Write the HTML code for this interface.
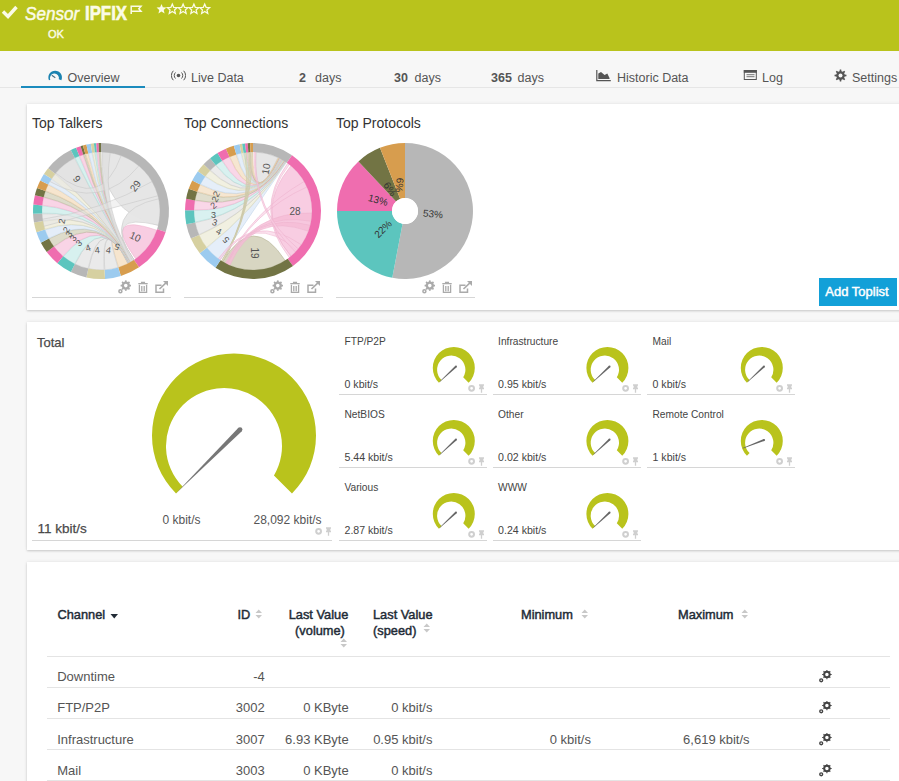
<!DOCTYPE html>
<html><head><meta charset="utf-8"><style>
html,body{margin:0;padding:0;}
body{width:899px;height:781px;overflow:hidden;position:relative;background:#f7f7f7;font-family:"Liberation Sans", sans-serif;}
.t{position:absolute;white-space:nowrap;}
.panel{position:absolute;background:#fff;box-shadow:0 1px 2px rgba(0,0,0,0.16), 0 0 4px rgba(0,0,0,0.07);}
</style></head><body>
<div style="position:absolute;left:0;top:0;width:899px;height:51px;background:#b9c31c"></div><svg style="position:absolute;left:0;top:0" width="20" height="22"><path d="M3 11.5 L8 16.5 L16.5 7" fill="none" stroke="#fbfbe6" stroke-width="3.4"/></svg><div class="t" style="left:25px;top:3.92px;font-size:19px;line-height:19px;color:#fbfbe6;font-weight:normal;font-style:italic;transform:scaleX(0.9);transform-origin:0 0;-webkit-text-stroke:0.5px #fbfbe6;">Sensor</div>
<div class="t" style="left:84.7px;top:3.27px;font-size:20px;line-height:20px;color:#fbfbe6;font-weight:bold;transform:scaleX(0.84);transform-origin:0 0;-webkit-text-stroke:0.6px #fbfbe6;">IPFIX</div>
<div class="t" style="left:48px;top:29.49px;font-size:11px;line-height:11px;color:#fbfbe6;font-weight:normal;-webkit-text-stroke:0.4px #fbfbe6;">OK</div>
<svg style="position:absolute;left:130px;top:5px" width="13" height="9"><path d="M1.2 0.5 V9 M1.2 1.2 H11 L8.8 3.7 L11 6.2 H1.2" fill="none" stroke="#fbfbe6" stroke-width="1.5"/></svg><svg style="position:absolute;left:150px;top:0px" width="70" height="20"><polygon points="11.50,4.00 12.88,7.31 16.45,7.59 13.73,9.92 14.56,13.41 11.50,11.54 8.44,13.41 9.27,9.92 6.55,7.59 10.12,7.31" fill="#fbfbe6"/><polygon points="22.30,4.00 23.68,7.31 27.25,7.59 24.53,9.92 25.36,13.41 22.30,11.54 19.24,13.41 20.07,9.92 17.35,7.59 20.92,7.31" fill="none" stroke="#fbfbe6" stroke-width="1.25"/><polygon points="33.10,4.00 34.48,7.31 38.05,7.59 35.33,9.92 36.16,13.41 33.10,11.54 30.04,13.41 30.87,9.92 28.15,7.59 31.72,7.31" fill="none" stroke="#fbfbe6" stroke-width="1.25"/><polygon points="43.90,4.00 45.28,7.31 48.85,7.59 46.13,9.92 46.96,13.41 43.90,11.54 40.84,13.41 41.67,9.92 38.95,7.59 42.52,7.31" fill="none" stroke="#fbfbe6" stroke-width="1.25"/><polygon points="54.70,4.00 56.08,7.31 59.65,7.59 56.93,9.92 57.76,13.41 54.70,11.54 51.64,13.41 52.47,9.92 49.75,7.59 53.32,7.31" fill="none" stroke="#fbfbe6" stroke-width="1.25"/></svg><div style="position:absolute;left:0;top:87px;width:899px;height:1px;background:#e6e6e6"></div><div style="position:absolute;left:21px;top:86px;width:124px;height:2px;background:#1b8bbd"></div><svg style="position:absolute;left:0;top:0" width="100" height="100"><path d="M48.99,80.37 A6.80,6.80 0 1 1 61.31,80.37 L58.79,79.20 A4.50,4.50 0 1 0 50.31,79.76 Z" fill="#1b82b0"/><path d="M51.8 75.2 L55.3 77.8" stroke="#4a6f85" stroke-width="1.1"/></svg><div class="t" style="left:67.5px;top:71.82px;font-size:12.5px;line-height:12.5px;color:#555;font-weight:normal;">Overview</div>
<svg style="position:absolute;left:171px;top:70px" width="15" height="11"><circle cx="7.5" cy="5.5" r="1.8" fill="#555"/><path d="M4.5 2.5 A4.2 4.2 0 0 0 4.5 8.5 M10.5 2.5 A4.2 4.2 0 0 1 10.5 8.5 M2.3 0.8 A6.8 6.8 0 0 0 2.3 10.2 M12.7 0.8 A6.8 6.8 0 0 1 12.7 10.2" fill="none" stroke="#555" stroke-width="1"/></svg><div class="t" style="left:191px;top:71.82px;font-size:12.5px;line-height:12.5px;color:#555;font-weight:normal;">Live Data</div>
<div class="t" style="left:299px;top:71.82px;font-size:12.5px;line-height:12.5px;color:#555;font-weight:bold;">2</div>
<div class="t" style="left:315px;top:71.82px;font-size:12.5px;line-height:12.5px;color:#555;font-weight:normal;">days</div>
<div class="t" style="left:394px;top:71.82px;font-size:12.5px;line-height:12.5px;color:#555;font-weight:bold;">30</div>
<div class="t" style="left:414.5px;top:71.82px;font-size:12.5px;line-height:12.5px;color:#555;font-weight:normal;">days</div>
<div class="t" style="left:491px;top:71.82px;font-size:12.5px;line-height:12.5px;color:#555;font-weight:bold;">365</div>
<div class="t" style="left:517.5px;top:71.82px;font-size:12.5px;line-height:12.5px;color:#555;font-weight:normal;">days</div>
<svg style="position:absolute;left:590px;top:64px" width="24" height="20"><path d="M6.8 6 V16.6 H20.8" fill="none" stroke="#555" stroke-width="1.2"/><path d="M8.3 15 V9.5 L11 8 L14.6 11 L17.3 9.5 L19.5 14 V15 Z" fill="#555"/></svg><div class="t" style="left:617px;top:71.82px;font-size:12.5px;line-height:12.5px;color:#555;font-weight:normal;">Historic Data</div>
<svg style="position:absolute;left:738px;top:64px" width="24" height="20"><rect x="6.3" y="6.5" width="12" height="9" fill="none" stroke="#555" stroke-width="1"/><rect x="5.8" y="6" width="13" height="2.8" fill="#555"/><path d="M8.5 10.7 H16.5 M8.5 12.7 H16.5" stroke="#666" stroke-width="0.9"/></svg><div class="t" style="left:762px;top:71.82px;font-size:12.5px;line-height:12.5px;color:#555;font-weight:normal;">Log</div>
<svg style="position:absolute;left:834px;top:69px" width="13" height="13"><path d="M10.70,5.56 L12.46,5.78 L12.46,7.22 L10.70,7.44 L10.13,8.80 L11.22,10.20 L10.20,11.22 L8.80,10.13 L7.44,10.70 L7.22,12.46 L5.78,12.46 L5.56,10.70 L4.20,10.13 L2.80,11.22 L1.78,10.20 L2.87,8.80 L2.30,7.44 L0.54,7.22 L0.54,5.78 L2.30,5.56 L2.87,4.20 L1.78,2.80 L2.80,1.78 L4.20,2.87 L5.56,2.30 L5.78,0.54 L7.22,0.54 L7.44,2.30 L8.80,2.87 L10.20,1.78 L11.22,2.80 L10.13,4.20 Z" fill="#555"/><circle cx="6.5" cy="6.5" r="2" fill="#f7f7f7"/></svg><div class="t" style="left:852px;top:71.82px;font-size:12.5px;line-height:12.5px;color:#555;font-weight:normal;">Settings</div>
<div class="panel" style="left:27px;top:104px;width:890px;height:206px"></div><div class="panel" style="left:27px;top:322px;width:890px;height:228px"></div><div class="panel" style="left:27px;top:562px;width:890px;height:240px"></div><div class="t" style="left:32px;top:115.95px;font-size:14px;line-height:14px;color:#333;font-weight:normal;">Top Talkers</div>
<div class="t" style="left:184px;top:115.95px;font-size:14px;line-height:14px;color:#333;font-weight:normal;">Top Connections</div>
<div class="t" style="left:336px;top:115.95px;font-size:14px;line-height:14px;color:#333;font-weight:normal;">Top Protocols</div>
<div style="position:absolute;left:32px;top:297px;width:139px;height:1px;background:#d6d6d6"></div><div style="position:absolute;left:184px;top:297px;width:139px;height:1px;background:#d6d6d6"></div><div style="position:absolute;left:336px;top:297px;width:139px;height:1px;background:#d6d6d6"></div><svg style="position:absolute;left:117.5px;top:280px" width="52" height="15"><circle cx="7.8" cy="5.6" r="3.0" fill="none" stroke="#aaa" stroke-width="2.4"/><rect x="6.95" y="0.40" width="1.7" height="1.6" fill="#aaa" transform="rotate(0.0 7.8 5.6)"/><rect x="6.95" y="0.40" width="1.7" height="1.6" fill="#aaa" transform="rotate(45.0 7.8 5.6)"/><rect x="6.95" y="0.40" width="1.7" height="1.6" fill="#aaa" transform="rotate(90.0 7.8 5.6)"/><rect x="6.95" y="0.40" width="1.7" height="1.6" fill="#aaa" transform="rotate(135.0 7.8 5.6)"/><rect x="6.95" y="0.40" width="1.7" height="1.6" fill="#aaa" transform="rotate(180.0 7.8 5.6)"/><rect x="6.95" y="0.40" width="1.7" height="1.6" fill="#aaa" transform="rotate(225.0 7.8 5.6)"/><rect x="6.95" y="0.40" width="1.7" height="1.6" fill="#aaa" transform="rotate(270.0 7.8 5.6)"/><rect x="6.95" y="0.40" width="1.7" height="1.6" fill="#aaa" transform="rotate(315.0 7.8 5.6)"/><circle cx="2.4" cy="11.3" r="1.5" fill="none" stroke="#aaa" stroke-width="1.5"/><path d="M20.3 3.6 H29.7 M23.6 3.6 V2.3 H26.4 V3.6 M21.4 4.8 V12.4 H28.6 V4.8 M23.8 6 V11.2 M26.2 6 V11.2" fill="none" stroke="#aaa" stroke-width="1.3"/><path d="M43.5 5.2 H38 V12.2 H45.5 V8.5" fill="none" stroke="#aaa" stroke-width="1.5"/><path d="M41.5 9 L49 1.8" fill="none" stroke="#aaa" stroke-width="1.6"/><path d="M45 1 H50 V6 Z" fill="#aaa"/></svg><svg style="position:absolute;left:269.5px;top:280px" width="52" height="15"><circle cx="7.8" cy="5.6" r="3.0" fill="none" stroke="#aaa" stroke-width="2.4"/><rect x="6.95" y="0.40" width="1.7" height="1.6" fill="#aaa" transform="rotate(0.0 7.8 5.6)"/><rect x="6.95" y="0.40" width="1.7" height="1.6" fill="#aaa" transform="rotate(45.0 7.8 5.6)"/><rect x="6.95" y="0.40" width="1.7" height="1.6" fill="#aaa" transform="rotate(90.0 7.8 5.6)"/><rect x="6.95" y="0.40" width="1.7" height="1.6" fill="#aaa" transform="rotate(135.0 7.8 5.6)"/><rect x="6.95" y="0.40" width="1.7" height="1.6" fill="#aaa" transform="rotate(180.0 7.8 5.6)"/><rect x="6.95" y="0.40" width="1.7" height="1.6" fill="#aaa" transform="rotate(225.0 7.8 5.6)"/><rect x="6.95" y="0.40" width="1.7" height="1.6" fill="#aaa" transform="rotate(270.0 7.8 5.6)"/><rect x="6.95" y="0.40" width="1.7" height="1.6" fill="#aaa" transform="rotate(315.0 7.8 5.6)"/><circle cx="2.4" cy="11.3" r="1.5" fill="none" stroke="#aaa" stroke-width="1.5"/><path d="M20.3 3.6 H29.7 M23.6 3.6 V2.3 H26.4 V3.6 M21.4 4.8 V12.4 H28.6 V4.8 M23.8 6 V11.2 M26.2 6 V11.2" fill="none" stroke="#aaa" stroke-width="1.3"/><path d="M43.5 5.2 H38 V12.2 H45.5 V8.5" fill="none" stroke="#aaa" stroke-width="1.5"/><path d="M41.5 9 L49 1.8" fill="none" stroke="#aaa" stroke-width="1.6"/><path d="M45 1 H50 V6 Z" fill="#aaa"/></svg><svg style="position:absolute;left:421.5px;top:280px" width="52" height="15"><circle cx="7.8" cy="5.6" r="3.0" fill="none" stroke="#aaa" stroke-width="2.4"/><rect x="6.95" y="0.40" width="1.7" height="1.6" fill="#aaa" transform="rotate(0.0 7.8 5.6)"/><rect x="6.95" y="0.40" width="1.7" height="1.6" fill="#aaa" transform="rotate(45.0 7.8 5.6)"/><rect x="6.95" y="0.40" width="1.7" height="1.6" fill="#aaa" transform="rotate(90.0 7.8 5.6)"/><rect x="6.95" y="0.40" width="1.7" height="1.6" fill="#aaa" transform="rotate(135.0 7.8 5.6)"/><rect x="6.95" y="0.40" width="1.7" height="1.6" fill="#aaa" transform="rotate(180.0 7.8 5.6)"/><rect x="6.95" y="0.40" width="1.7" height="1.6" fill="#aaa" transform="rotate(225.0 7.8 5.6)"/><rect x="6.95" y="0.40" width="1.7" height="1.6" fill="#aaa" transform="rotate(270.0 7.8 5.6)"/><rect x="6.95" y="0.40" width="1.7" height="1.6" fill="#aaa" transform="rotate(315.0 7.8 5.6)"/><circle cx="2.4" cy="11.3" r="1.5" fill="none" stroke="#aaa" stroke-width="1.5"/><path d="M20.3 3.6 H29.7 M23.6 3.6 V2.3 H26.4 V3.6 M21.4 4.8 V12.4 H28.6 V4.8 M23.8 6 V11.2 M26.2 6 V11.2" fill="none" stroke="#aaa" stroke-width="1.3"/><path d="M43.5 5.2 H38 V12.2 H45.5 V8.5" fill="none" stroke="#aaa" stroke-width="1.5"/><path d="M41.5 9 L49 1.8" fill="none" stroke="#aaa" stroke-width="1.6"/><path d="M45 1 H50 V6 Z" fill="#aaa"/></svg><div style="position:absolute;left:819px;top:278px;width:78px;height:28px;background:#12a0d8"></div><div class="t" style="left:825.3px;top:285.00px;font-size:13px;line-height:13px;color:#fff;font-weight:normal;-webkit-text-stroke:0.45px #fff;">Add Toplist</div>
<svg style="position:absolute;left:0;top:0" width="899" height="781">
<path d="M103.06,152.04 A59,59 0 0 1 158.25,225.27 Q101.00,211.00 103.06,152.04 Z" fill="#e6e6e6" fill-opacity="1" stroke="#c9c9c9" stroke-width="0.6"/>
<path d="M156.79,230.21 A59,59 0 0 1 135.68,258.73 Q101.00,211.00 156.79,230.21 Z" fill="#f8cde2" fill-opacity="1" stroke="#eeb3cf" stroke-width="0.6"/>
<path d="M133.74,260.09 A59,59 0 0 1 118.55,267.33 Q101.00,211.00 128.03,263.44 A59,59 0 0 1 127.79,263.57 Q101.00,211.00 133.74,260.09 Z" fill="#f4e0c6" fill-opacity="0.85" stroke="#e3c8a3" stroke-width="0.6"/>
<path d="M117.95,267.51 A59,59 0 0 1 104.81,269.88 Q101.00,211.00 128.28,263.32 A59,59 0 0 1 128.03,263.44 Q101.00,211.00 117.95,267.51 Z" fill="#e6e6e6" fill-opacity="0.85" stroke="#c9c9c9" stroke-width="0.6"/>
<path d="M104.19,269.91 A59,59 0 0 1 88.63,268.69 Q101.00,211.00 128.52,263.19 A59,59 0 0 1 128.28,263.32 Q101.00,211.00 104.19,269.91 Z" fill="#e6e6e6" fill-opacity="0.85" stroke="#c9c9c9" stroke-width="0.6"/>
<path d="M88.03,268.56 A59,59 0 0 1 75.14,264.03 Q101.00,211.00 128.77,263.06 A59,59 0 0 1 128.52,263.19 Q101.00,211.00 88.03,268.56 Z" fill="#e6e6e6" fill-opacity="0.85" stroke="#c9c9c9" stroke-width="0.6"/>
<path d="M74.58,263.76 A59,59 0 0 1 63.39,256.46 Q101.00,211.00 129.01,262.93 A59,59 0 0 1 128.77,263.06 Q101.00,211.00 74.58,263.76 Z" fill="#d0eeec" fill-opacity="0.85" stroke="#b0dcd9" stroke-width="0.6"/>
<path d="M62.92,256.06 A59,59 0 0 1 54.13,246.84 Q101.00,211.00 129.26,262.79 A59,59 0 0 1 129.01,262.93 Q101.00,211.00 62.92,256.06 Z" fill="#f8cde2" fill-opacity="0.85" stroke="#eeb3cf" stroke-width="0.6"/>
<path d="M53.76,246.34 A59,59 0 0 1 48.95,238.79 Q101.00,211.00 129.50,262.66 A59,59 0 0 1 129.26,262.79 Q101.00,211.00 53.76,246.34 Z" fill="#d8d6c2" fill-opacity="0.85" stroke="#b9b79a" stroke-width="0.6"/>
<path d="M48.67,238.24 A59,59 0 0 1 45.08,229.82 Q101.00,211.00 129.74,262.53 A59,59 0 0 1 129.50,262.66 Q101.00,211.00 48.67,238.24 Z" fill="#dfeaf7" fill-opacity="0.85" stroke="#c4d6ea" stroke-width="0.6"/>
<path d="M44.89,229.23 A59,59 0 0 1 42.91,221.35 Q101.00,211.00 129.98,262.39 A59,59 0 0 1 129.74,262.53 Q101.00,211.00 44.89,229.23 Z" fill="#eeecd9" fill-opacity="0.85" stroke="#d9d6b8" stroke-width="0.6"/>
<path d="M42.81,220.74 A59,59 0 0 1 42.07,213.78 Q101.00,211.00 130.23,262.25 A59,59 0 0 1 129.98,262.39 Q101.00,211.00 42.81,220.74 Z" fill="#e6e6e6" fill-opacity="0.85" stroke="#c9c9c9" stroke-width="0.6"/>
<path d="M42.04,213.16 A59,59 0 0 1 42.23,205.76 Q101.00,211.00 130.47,262.12 A59,59 0 0 1 130.23,262.25 Q101.00,211.00 42.04,213.16 Z" fill="#d0eeec" fill-opacity="0.85" stroke="#b0dcd9" stroke-width="0.6"/>
<path d="M42.29,205.14 A59,59 0 0 1 43.56,197.53 Q101.00,211.00 130.71,261.98 A59,59 0 0 1 130.47,262.12 Q101.00,211.00 42.29,205.14 Z" fill="#f8cde2" fill-opacity="0.85" stroke="#eeb3cf" stroke-width="0.6"/>
<path d="M43.70,196.93 A59,59 0 0 1 45.38,191.31 Q101.00,211.00 130.94,261.84 A59,59 0 0 1 130.71,261.98 Q101.00,211.00 43.70,196.93 Z" fill="#d8d6c2" fill-opacity="0.85" stroke="#b9b79a" stroke-width="0.6"/>
<path d="M45.59,190.72 A59,59 0 0 1 48.15,184.77 Q101.00,211.00 131.18,261.69 A59,59 0 0 1 130.94,261.84 Q101.00,211.00 45.59,190.72 Z" fill="#f4e0c6" fill-opacity="0.85" stroke="#e3c8a3" stroke-width="0.6"/>
<path d="M48.43,184.21 A59,59 0 0 1 51.35,179.13 Q101.00,211.00 131.42,261.55 A59,59 0 0 1 131.18,261.69 Q101.00,211.00 48.43,184.21 Z" fill="#dfeaf7" fill-opacity="0.85" stroke="#c4d6ea" stroke-width="0.6"/>
<path d="M51.69,178.61 A59,59 0 0 1 54.95,174.11 Q101.00,211.00 131.66,261.41 A59,59 0 0 1 131.42,261.55 Q101.00,211.00 51.69,178.61 Z" fill="#eeecd9" fill-opacity="0.85" stroke="#d9d6b8" stroke-width="0.6"/>
<path d="M55.34,173.63 A59,59 0 0 1 74.58,158.24 Q101.00,211.00 131.89,261.26 A59,59 0 0 1 131.66,261.41 Q101.00,211.00 55.34,173.63 Z" fill="#e2e2e2" fill-opacity="0.95" stroke="#c9c9c9" stroke-width="0.6"/>
<path d="M75.14,157.97 A59,59 0 0 1 79.09,156.22 Q101.00,211.00 132.13,261.12 A59,59 0 0 1 131.89,261.26 Q101.00,211.00 75.14,157.97 Z" fill="#d0eeec" fill-opacity="0.85" stroke="#b0dcd9" stroke-width="0.6"/>
<path d="M79.66,155.99 A59,59 0 0 1 82.96,154.82 Q101.00,211.00 132.37,260.97 A59,59 0 0 1 132.13,261.12 Q101.00,211.00 79.66,155.99 Z" fill="#f8cde2" fill-opacity="0.85" stroke="#eeb3cf" stroke-width="0.6"/>
<path d="M83.55,154.64 A59,59 0 0 1 85.03,154.20 Q101.00,211.00 132.60,260.82 A59,59 0 0 1 132.37,260.97 Q101.00,211.00 83.55,154.64 Z" fill="#d8d6c2" fill-opacity="0.85" stroke="#b9b79a" stroke-width="0.6"/>
<path d="M85.63,154.04 A59,59 0 0 1 88.03,153.44 Q101.00,211.00 132.83,260.67 A59,59 0 0 1 132.60,260.82 Q101.00,211.00 85.63,154.04 Z" fill="#f4e0c6" fill-opacity="0.85" stroke="#e3c8a3" stroke-width="0.6"/>
<path d="M88.63,153.31 A59,59 0 0 1 91.87,152.71 Q101.00,211.00 133.07,260.52 A59,59 0 0 1 132.83,260.67 Q101.00,211.00 88.63,153.31 Z" fill="#dfeaf7" fill-opacity="0.85" stroke="#c4d6ea" stroke-width="0.6"/>
<path d="M92.48,152.62 A59,59 0 0 1 94.53,152.36 Q101.00,211.00 133.30,260.37 A59,59 0 0 1 133.07,260.52 Q101.00,211.00 92.48,152.62 Z" fill="#eeecd9" fill-opacity="0.85" stroke="#d9d6b8" stroke-width="0.6"/>
<path d="M95.14,152.29 A59,59 0 0 1 96.58,152.17 Q101.00,211.00 133.53,260.22 A59,59 0 0 1 133.30,260.37 Q101.00,211.00 95.14,152.29 Z" fill="#d0eeec" fill-opacity="0.85" stroke="#b0dcd9" stroke-width="0.6"/>
<path d="M97.19,152.12 A59,59 0 0 1 98.63,152.05 Q101.00,211.00 133.76,260.07 A59,59 0 0 1 133.53,260.22 Q101.00,211.00 97.19,152.12 Z" fill="#f8cde2" fill-opacity="0.85" stroke="#eeb3cf" stroke-width="0.6"/>
<path d="M99.25,152.03 A59,59 0 0 1 100.69,152.00 Q101.00,211.00 133.99,259.91 A59,59 0 0 1 133.76,260.07 Q101.00,211.00 99.25,152.03 Z" fill="#d8d6c2" fill-opacity="0.85" stroke="#b9b79a" stroke-width="0.6"/>
<path d="M121.18,155.56 A59,59 0 0 1 138.92,165.80 Q101.00,211.00 49.90,181.50 A59,59 0 0 1 55.80,173.08 Q101.00,211.00 121.18,155.56 Z" fill="#e6e6e6" fill-opacity="0.5" stroke="#c9c9c9" stroke-width="0.6"/>
<path d="M102.03,152.01 A59,59 0 0 1 110.23,152.73 Q101.00,211.00 133.99,259.91 A59,59 0 0 1 130.50,262.10 Q101.00,211.00 102.03,152.01 Z" fill="#e0e0e0" fill-opacity="0.9" stroke="#c9c9c9" stroke-width="0.6"/>
<path d="M158.71,198.73 A59,59 0 0 1 158.25,225.27 Q101.00,211.00 133.99,259.91 A59,59 0 0 1 132.70,260.76 Q101.00,211.00 158.71,198.73 Z" fill="#e6e6e6" fill-opacity="0.95" stroke="#c9c9c9" stroke-width="0.6"/>
<path d="M152.10,181.50 A59,59 0 0 1 157.99,195.73 Q101.00,211.00 44.01,226.27 A59,59 0 0 1 42.57,219.21 Q101.00,211.00 152.10,181.50 Z" fill="#e6e6e6" fill-opacity="0.5" stroke="#c9c9c9" stroke-width="0.6"/>
<path d="M101.00,143.00 A68,68 0 0 1 165.67,232.01 L157.11,229.23 A59,59 0 0 0 101.00,152.00 Z" fill="#b7b7b7"/>
<path d="M165.67,232.01 A68,68 0 0 1 139.03,267.37 L133.99,259.91 A59,59 0 0 0 157.11,229.23 Z" fill="#ef6daf"/>
<path d="M139.03,267.37 A68,68 0 0 1 120.88,276.03 L118.25,267.42 A59,59 0 0 0 133.99,259.91 Z" fill="#d79d4e"/>
<path d="M120.88,276.03 A68,68 0 0 1 105.03,278.88 L104.50,269.90 A59,59 0 0 0 118.25,267.42 Z" fill="#9ccbef"/>
<path d="M105.03,278.88 A68,68 0 0 1 86.40,277.41 L88.33,268.62 A59,59 0 0 0 104.50,269.90 Z" fill="#d6d0a0"/>
<path d="M86.40,277.41 A68,68 0 0 1 70.87,271.96 L74.86,263.89 A59,59 0 0 0 88.33,268.62 Z" fill="#b7b7b7"/>
<path d="M70.87,271.96 A68,68 0 0 1 57.38,263.17 L63.15,256.26 A59,59 0 0 0 74.86,263.89 Z" fill="#5cc5be"/>
<path d="M57.38,263.17 A68,68 0 0 1 46.76,252.02 L53.94,246.59 A59,59 0 0 0 63.15,256.26 Z" fill="#ef6daf"/>
<path d="M46.76,252.02 A68,68 0 0 1 40.85,242.71 L48.81,238.52 A59,59 0 0 0 53.94,246.59 Z" fill="#727444"/>
<path d="M40.85,242.71 A68,68 0 0 1 36.44,232.35 L44.98,229.53 A59,59 0 0 0 48.81,238.52 Z" fill="#9ccbef"/>
<path d="M36.44,232.35 A68,68 0 0 1 33.99,222.57 L42.86,221.04 A59,59 0 0 0 44.98,229.53 Z" fill="#d6d0a0"/>
<path d="M33.99,222.57 A68,68 0 0 1 33.06,213.85 L42.05,213.47 A59,59 0 0 0 42.86,221.04 Z" fill="#b7b7b7"/>
<path d="M33.06,213.85 A68,68 0 0 1 33.30,204.60 L42.26,205.45 A59,59 0 0 0 42.05,213.47 Z" fill="#5cc5be"/>
<path d="M33.30,204.60 A68,68 0 0 1 34.88,195.13 L43.63,197.23 A59,59 0 0 0 42.26,205.45 Z" fill="#ef6daf"/>
<path d="M34.88,195.13 A68,68 0 0 1 37.02,187.97 L45.49,191.01 A59,59 0 0 0 43.63,197.23 Z" fill="#727444"/>
<path d="M37.02,187.97 A68,68 0 0 1 40.25,180.45 L48.29,184.49 A59,59 0 0 0 45.49,191.01 Z" fill="#d79d4e"/>
<path d="M40.25,180.45 A68,68 0 0 1 43.97,173.96 L51.52,178.87 A59,59 0 0 0 48.29,184.49 Z" fill="#9ccbef"/>
<path d="M43.97,173.96 A68,68 0 0 1 48.15,168.21 L55.15,173.87 A59,59 0 0 0 51.52,178.87 Z" fill="#d6d0a0"/>
<path d="M48.15,168.21 A68,68 0 0 1 70.87,150.04 L74.86,158.11 A59,59 0 0 0 55.15,173.87 Z" fill="#b7b7b7"/>
<path d="M70.87,150.04 A68,68 0 0 1 76.08,147.73 L79.38,156.11 A59,59 0 0 0 74.86,158.11 Z" fill="#5cc5be"/>
<path d="M76.08,147.73 A68,68 0 0 1 80.55,146.15 L83.26,154.73 A59,59 0 0 0 79.38,156.11 Z" fill="#ef6daf"/>
<path d="M80.55,146.15 A68,68 0 0 1 82.94,145.44 L85.33,154.12 A59,59 0 0 0 83.26,154.73 Z" fill="#727444"/>
<path d="M82.94,145.44 A68,68 0 0 1 86.40,144.59 L88.33,153.38 A59,59 0 0 0 85.33,154.12 Z" fill="#d79d4e"/>
<path d="M86.40,144.59 A68,68 0 0 1 90.83,143.76 L92.18,152.66 A59,59 0 0 0 88.33,153.38 Z" fill="#9ccbef"/>
<path d="M90.83,143.76 A68,68 0 0 1 93.89,143.37 L94.83,152.32 A59,59 0 0 0 92.18,152.66 Z" fill="#d6d0a0"/>
<path d="M93.89,143.37 A68,68 0 0 1 96.26,143.17 L96.88,152.14 A59,59 0 0 0 94.83,152.32 Z" fill="#5cc5be"/>
<path d="M96.26,143.17 A68,68 0 0 1 98.63,143.04 L98.94,152.04 A59,59 0 0 0 96.88,152.14 Z" fill="#ef6daf"/>
<path d="M98.63,143.04 A68,68 0 0 1 101.00,143.00 L101.00,152.00 A59,59 0 0 0 98.94,152.04 Z" fill="#727444"/>
<text x="135.3" y="186" transform="rotate(-55 135.3 186)" font-size="10" fill="#555" text-anchor="middle" dominant-baseline="central" font-family="Liberation Sans, sans-serif">29</text>
<text x="135.3" y="236.8" transform="rotate(25 135.3 236.8)" font-size="10" fill="#555" text-anchor="middle" dominant-baseline="central" font-family="Liberation Sans, sans-serif">10</text>
<text x="76.8" y="179" transform="rotate(235 76.8 179)" font-size="10" fill="#555" text-anchor="middle" dominant-baseline="central" font-family="Liberation Sans, sans-serif">6</text>
<text x="62" y="221.3" transform="rotate(-80 62 221.3)" font-size="9" fill="#555" text-anchor="middle" dominant-baseline="central" font-family="Liberation Sans, sans-serif">2</text>
<text x="66.3" y="229.8" transform="rotate(-60 66.3 229.8)" font-size="9" fill="#555" text-anchor="middle" dominant-baseline="central" font-family="Liberation Sans, sans-serif">2</text>
<text x="69" y="234" transform="rotate(-55 69 234)" font-size="9" fill="#555" text-anchor="middle" dominant-baseline="central" font-family="Liberation Sans, sans-serif">3</text>
<text x="73.3" y="238.2" transform="rotate(-50 73.3 238.2)" font-size="9" fill="#555" text-anchor="middle" dominant-baseline="central" font-family="Liberation Sans, sans-serif">3</text>
<text x="79" y="243.2" transform="rotate(-40 79 243.2)" font-size="9" fill="#555" text-anchor="middle" dominant-baseline="central" font-family="Liberation Sans, sans-serif">3</text>
<text x="88.1" y="248.1" transform="rotate(-20 88.1 248.1)" font-size="9" fill="#555" text-anchor="middle" dominant-baseline="central" font-family="Liberation Sans, sans-serif">4</text>
<text x="97.3" y="250.2" transform="rotate(-5 97.3 250.2)" font-size="9" fill="#555" text-anchor="middle" dominant-baseline="central" font-family="Liberation Sans, sans-serif">4</text>
<text x="108.5" y="250.2" transform="rotate(10 108.5 250.2)" font-size="9" fill="#555" text-anchor="middle" dominant-baseline="central" font-family="Liberation Sans, sans-serif">4</text>
<text x="117" y="246.7" transform="rotate(-160 117 246.7)" font-size="9" fill="#555" text-anchor="middle" dominant-baseline="central" font-family="Liberation Sans, sans-serif">5</text>
<path d="M256.09,152.08 A59,59 0 0 1 277.93,157.53 Q253.00,211.00 256.09,152.08 Z" fill="#e6e6e6" fill-opacity="1" stroke="#c9c9c9" stroke-width="0.6"/>
<path d="M290.92,165.80 A59,59 0 0 1 290.92,256.20 Q253.00,211.00 290.92,165.80 Z" fill="#f8cde2" fill-opacity="1" stroke="#eeb3cf" stroke-width="0.6"/>
<path d="M285.13,260.48 A59,59 0 0 1 222.61,261.57 Q253.00,211.00 285.13,260.48 Z" fill="#d8d6c2" fill-opacity="1" stroke="#b9b79a" stroke-width="0.6"/>
<path d="M220.18,260.03 A59,59 0 0 1 207.02,247.97 Q253.00,211.00 286.01,162.10 A59,59 0 0 1 286.42,162.38 Q253.00,211.00 220.18,260.03 Z" fill="#dfeaf7" fill-opacity="0.8" stroke="#c4d6ea" stroke-width="0.6"/>
<path d="M206.63,247.49 A59,59 0 0 1 199.18,235.19 Q253.00,211.00 285.61,161.83 A59,59 0 0 1 286.01,162.10 Q253.00,211.00 206.63,247.49 Z" fill="#eeecd9" fill-opacity="0.8" stroke="#d9d6b8" stroke-width="0.6"/>
<path d="M198.93,234.62 A59,59 0 0 1 195.18,222.76 Q253.00,211.00 285.20,161.56 A59,59 0 0 1 285.61,161.83 Q253.00,211.00 198.93,234.62 Z" fill="#e6e6e6" fill-opacity="0.8" stroke="#c9c9c9" stroke-width="0.6"/>
<path d="M195.06,222.16 A59,59 0 0 1 194.00,210.59 Q253.00,211.00 284.79,161.30 A59,59 0 0 1 285.20,161.56 Q253.00,211.00 195.06,222.16 Z" fill="#d0eeec" fill-opacity="0.8" stroke="#b0dcd9" stroke-width="0.6"/>
<path d="M194.01,209.97 A59,59 0 0 1 194.90,200.75 Q253.00,211.00 284.38,161.04 A59,59 0 0 1 284.79,161.30 Q253.00,211.00 194.01,209.97 Z" fill="#f8cde2" fill-opacity="0.8" stroke="#eeb3cf" stroke-width="0.6"/>
<path d="M195.01,200.15 A59,59 0 0 1 197.11,192.08 Q253.00,211.00 283.97,160.78 A59,59 0 0 1 284.38,161.04 Q253.00,211.00 195.01,200.15 Z" fill="#d8d6c2" fill-opacity="0.8" stroke="#b9b79a" stroke-width="0.6"/>
<path d="M197.32,191.50 A59,59 0 0 1 200.15,184.77 Q253.00,211.00 283.55,160.53 A59,59 0 0 1 283.97,160.78 Q253.00,211.00 197.32,191.50 Z" fill="#f4e0c6" fill-opacity="0.8" stroke="#e3c8a3" stroke-width="0.6"/>
<path d="M200.43,184.21 A59,59 0 0 1 205.03,176.65 Q253.00,211.00 283.13,160.27 A59,59 0 0 1 283.55,160.53 Q253.00,211.00 200.43,184.21 Z" fill="#dfeaf7" fill-opacity="0.8" stroke="#c4d6ea" stroke-width="0.6"/>
<path d="M205.39,176.15 A59,59 0 0 1 209.92,170.69 Q253.00,211.00 282.71,160.03 A59,59 0 0 1 283.13,160.27 Q253.00,211.00 205.39,176.15 Z" fill="#eeecd9" fill-opacity="0.8" stroke="#d9d6b8" stroke-width="0.6"/>
<path d="M210.34,170.24 A59,59 0 0 1 215.55,165.41 Q253.00,211.00 282.29,159.78 A59,59 0 0 1 282.71,160.03 Q253.00,211.00 210.34,170.24 Z" fill="#e6e6e6" fill-opacity="0.8" stroke="#c9c9c9" stroke-width="0.6"/>
<path d="M216.03,165.02 A59,59 0 0 1 221.91,160.86 Q253.00,211.00 281.86,159.54 A59,59 0 0 1 282.29,159.78 Q253.00,211.00 216.03,165.02 Z" fill="#d0eeec" fill-opacity="0.8" stroke="#b0dcd9" stroke-width="0.6"/>
<path d="M222.44,160.53 A59,59 0 0 1 229.19,157.02 Q253.00,211.00 281.44,159.31 A59,59 0 0 1 281.86,159.54 Q253.00,211.00 222.44,160.53 Z" fill="#f8cde2" fill-opacity="0.8" stroke="#eeb3cf" stroke-width="0.6"/>
<path d="M229.76,156.77 A59,59 0 0 1 236.05,154.49 Q253.00,211.00 281.01,159.07 A59,59 0 0 1 281.44,159.31 Q253.00,211.00 229.76,156.77 Z" fill="#f4e0c6" fill-opacity="0.8" stroke="#e3c8a3" stroke-width="0.6"/>
<path d="M236.64,154.31 A59,59 0 0 1 241.04,153.23 Q253.00,211.00 280.58,158.84 A59,59 0 0 1 281.01,159.07 Q253.00,211.00 236.64,154.31 Z" fill="#dfeaf7" fill-opacity="0.8" stroke="#c4d6ea" stroke-width="0.6"/>
<path d="M241.64,153.10 A59,59 0 0 1 243.26,152.81 Q253.00,211.00 280.15,158.62 A59,59 0 0 1 280.58,158.84 Q253.00,211.00 241.64,153.10 Z" fill="#eeecd9" fill-opacity="0.8" stroke="#d9d6b8" stroke-width="0.6"/>
<path d="M243.87,152.71 A59,59 0 0 1 245.81,152.44 Q253.00,211.00 279.71,158.39 A59,59 0 0 1 280.15,158.62 Q253.00,211.00 243.87,152.71 Z" fill="#d0eeec" fill-opacity="0.8" stroke="#b0dcd9" stroke-width="0.6"/>
<path d="M246.42,152.37 A59,59 0 0 1 248.06,152.21 Q253.00,211.00 279.28,158.17 A59,59 0 0 1 279.71,158.39 Q253.00,211.00 246.42,152.37 Z" fill="#f8cde2" fill-opacity="0.8" stroke="#eeb3cf" stroke-width="0.6"/>
<path d="M248.68,152.16 A59,59 0 0 1 250.22,152.07 Q253.00,211.00 278.84,157.96 A59,59 0 0 1 279.28,158.17 Q253.00,211.00 248.68,152.16 Z" fill="#d8d6c2" fill-opacity="0.8" stroke="#b9b79a" stroke-width="0.6"/>
<path d="M250.84,152.04 A59,59 0 0 1 252.69,152.00 Q253.00,211.00 278.40,157.75 A59,59 0 0 1 278.84,157.96 Q253.00,211.00 250.84,152.04 Z" fill="#f4e0c6" fill-opacity="0.8" stroke="#e3c8a3" stroke-width="0.6"/>
<path d="M244.79,152.57 A59,59 0 0 1 246.01,152.42 Q253.00,211.00 222.61,261.57 A59,59 0 0 1 221.73,261.03 Q253.00,211.00 244.79,152.57 Z" fill="#eeecd9" fill-opacity="0.8" stroke="#c8c2a0" stroke-width="0.6"/>
<path d="M247.86,152.22 A59,59 0 0 1 249.09,152.13 Q253.00,211.00 222.61,261.57 A59,59 0 0 1 221.73,261.03 Q253.00,211.00 247.86,152.22 Z" fill="#eeecd9" fill-opacity="0.8" stroke="#c8c2a0" stroke-width="0.6"/>
<path d="M250.94,152.04 A59,59 0 0 1 252.18,152.01 Q253.00,211.00 222.61,261.57 A59,59 0 0 1 221.73,261.03 Q253.00,211.00 250.94,152.04 Z" fill="#eeecd9" fill-opacity="0.8" stroke="#c8c2a0" stroke-width="0.6"/>
<path d="M311.96,213.06 A59,59 0 0 1 308.44,231.18 Q253.00,211.00 229.95,265.31 A59,59 0 0 1 226.21,263.57 Q253.00,211.00 311.96,213.06 Z" fill="#f5bcd6" fill-opacity="0.8" stroke="#eeb3cf" stroke-width="0.6"/>
<path d="M301.33,244.84 A59,59 0 0 1 296.85,250.48 Q253.00,211.00 220.01,259.91 A59,59 0 0 1 218.32,258.73 Q253.00,211.00 301.33,244.84 Z" fill="#f8cde2" fill-opacity="0.6" stroke="#eeb3cf" stroke-width="0.6"/>
<path d="M311.10,221.25 A59,59 0 0 1 310.25,225.27 Q253.00,211.00 227.14,264.03 A59,59 0 0 1 226.21,263.57 Q253.00,211.00 311.10,221.25 Z" fill="#f8cde2" fill-opacity="0.6" stroke="#eeb3cf" stroke-width="0.6"/>
<path d="M304.10,181.50 A59,59 0 0 1 306.90,187.00 Q253.00,211.00 226.21,263.57 A59,59 0 0 1 225.30,263.09 Q253.00,211.00 304.10,181.50 Z" fill="#f8cde2" fill-opacity="0.6" stroke="#eeb3cf" stroke-width="0.6"/>
<path d="M287.68,163.27 A59,59 0 0 1 289.32,164.51 Q253.00,211.00 290.92,256.20 A59,59 0 0 1 289.32,257.49 Q253.00,211.00 287.68,163.27 Z" fill="#f8cde2" fill-opacity="0.6" stroke="#eeb3cf" stroke-width="0.6"/>
<path d="M254.03,152.01 A59,59 0 0 1 255.57,152.06 Q253.00,211.00 298.20,248.92 A59,59 0 0 1 295.44,251.98 Q253.00,211.00 254.03,152.01 Z" fill="#f8cde2" fill-opacity="0.6" stroke="#eeb3cf" stroke-width="0.6"/>
<path d="M253.00,143.00 A68,68 0 0 1 292.00,155.30 L286.84,162.67 A59,59 0 0 0 253.00,152.00 Z" fill="#b7b7b7"/>
<path d="M292.00,155.30 A68,68 0 0 1 292.97,266.01 L287.68,258.73 A59,59 0 0 0 286.84,162.67 Z" fill="#ef6daf"/>
<path d="M292.97,266.01 A68,68 0 0 1 215.47,267.70 L220.44,260.20 A59,59 0 0 0 287.68,258.73 Z" fill="#727444"/>
<path d="M215.47,267.70 A68,68 0 0 1 199.78,253.33 L206.83,247.73 A59,59 0 0 0 220.44,260.20 Z" fill="#9ccbef"/>
<path d="M199.78,253.33 A68,68 0 0 1 190.83,238.55 L199.06,234.90 A59,59 0 0 0 206.83,247.73 Z" fill="#d6d0a0"/>
<path d="M190.83,238.55 A68,68 0 0 1 186.30,224.21 L195.12,222.46 A59,59 0 0 0 199.06,234.90 Z" fill="#b7b7b7"/>
<path d="M186.30,224.21 A68,68 0 0 1 185.01,210.17 L194.00,210.28 A59,59 0 0 0 195.12,222.46 Z" fill="#5cc5be"/>
<path d="M185.01,210.17 A68,68 0 0 1 186.10,198.84 L194.95,200.45 A59,59 0 0 0 194.00,210.28 Z" fill="#ef6daf"/>
<path d="M186.10,198.84 A68,68 0 0 1 188.70,188.86 L197.21,191.79 A59,59 0 0 0 194.95,200.45 Z" fill="#727444"/>
<path d="M188.70,188.86 A68,68 0 0 1 192.25,180.45 L200.29,184.49 A59,59 0 0 0 197.21,191.79 Z" fill="#d79d4e"/>
<path d="M192.25,180.45 A68,68 0 0 1 197.92,171.13 L205.21,176.40 A59,59 0 0 0 200.29,184.49 Z" fill="#9ccbef"/>
<path d="M197.92,171.13 A68,68 0 0 1 203.59,164.28 L210.13,170.46 A59,59 0 0 0 205.21,176.40 Z" fill="#d6d0a0"/>
<path d="M203.59,164.28 A68,68 0 0 1 210.11,158.23 L215.79,165.21 A59,59 0 0 0 210.13,170.46 Z" fill="#b7b7b7"/>
<path d="M210.11,158.23 A68,68 0 0 1 217.47,153.02 L222.17,160.69 A59,59 0 0 0 215.79,165.21 Z" fill="#5cc5be"/>
<path d="M217.47,153.02 A68,68 0 0 1 225.89,148.64 L229.47,156.89 A59,59 0 0 0 222.17,160.69 Z" fill="#ef6daf"/>
<path d="M225.89,148.64 A68,68 0 0 1 233.80,145.77 L236.34,154.40 A59,59 0 0 0 229.47,156.89 Z" fill="#d79d4e"/>
<path d="M233.80,145.77 A68,68 0 0 1 239.56,144.34 L241.34,153.16 A59,59 0 0 0 236.34,154.40 Z" fill="#9ccbef"/>
<path d="M239.56,144.34 A68,68 0 0 1 242.13,143.87 L243.57,152.76 A59,59 0 0 0 241.34,153.16 Z" fill="#d6d0a0"/>
<path d="M242.13,143.87 A68,68 0 0 1 245.07,143.46 L246.12,152.40 A59,59 0 0 0 243.57,152.76 Z" fill="#5cc5be"/>
<path d="M245.07,143.46 A68,68 0 0 1 247.66,143.21 L248.37,152.18 A59,59 0 0 0 246.12,152.40 Z" fill="#ef6daf"/>
<path d="M247.66,143.21 A68,68 0 0 1 250.15,143.06 L250.53,152.05 A59,59 0 0 0 248.37,152.18 Z" fill="#727444"/>
<path d="M250.15,143.06 A68,68 0 0 1 253.00,143.00 L253.00,152.00 A59,59 0 0 0 250.53,152.05 Z" fill="#d79d4e"/>
<text x="266" y="169" transform="rotate(-80 266 169)" font-size="10" fill="#555" text-anchor="middle" dominant-baseline="central" font-family="Liberation Sans, sans-serif">10</text>
<text x="295" y="211" transform="rotate(0 295 211)" font-size="10" fill="#555" text-anchor="middle" dominant-baseline="central" font-family="Liberation Sans, sans-serif">28</text>
<text x="254" y="253" transform="rotate(90 254 253)" font-size="10" fill="#555" text-anchor="middle" dominant-baseline="central" font-family="Liberation Sans, sans-serif">19</text>
<text x="216.5" y="194" transform="rotate(-60 216.5 194)" font-size="9" fill="#555" text-anchor="middle" dominant-baseline="central" font-family="Liberation Sans, sans-serif">2</text>
<text x="215.2" y="199.3" transform="rotate(-60 215.2 199.3)" font-size="9" fill="#555" text-anchor="middle" dominant-baseline="central" font-family="Liberation Sans, sans-serif">2</text>
<text x="213.4" y="205.6" transform="rotate(-40 213.4 205.6)" font-size="9" fill="#555" text-anchor="middle" dominant-baseline="central" font-family="Liberation Sans, sans-serif">2</text>
<text x="213.4" y="214.6" transform="rotate(0 213.4 214.6)" font-size="9" fill="#555" text-anchor="middle" dominant-baseline="central" font-family="Liberation Sans, sans-serif">3</text>
<text x="214.7" y="222.6" transform="rotate(15 214.7 222.6)" font-size="9" fill="#555" text-anchor="middle" dominant-baseline="central" font-family="Liberation Sans, sans-serif">3</text>
<text x="218.8" y="231.6" transform="rotate(25 218.8 231.6)" font-size="9" fill="#555" text-anchor="middle" dominant-baseline="central" font-family="Liberation Sans, sans-serif">4</text>
<text x="226" y="239.7" transform="rotate(-130 226 239.7)" font-size="9" fill="#555" text-anchor="middle" dominant-baseline="central" font-family="Liberation Sans, sans-serif">5</text>
<path d="M405.00,143.00 A68,68 0 1 1 392.26,277.80 L402.56,223.77 A13,13 0 1 0 405.00,198.00 Z" fill="#b7b7b7"/>
<path d="M392.26,277.80 A68,68 0 0 1 337.00,211.00 L392.00,211.00 A13,13 0 0 0 402.56,223.77 Z" fill="#5cc5be"/>
<path d="M337.00,211.00 A68,68 0 0 1 358.45,161.43 L396.10,201.52 A13,13 0 0 0 392.00,211.00 Z" fill="#ef6daf"/>
<path d="M358.45,161.43 A68,68 0 0 1 379.97,147.78 L400.21,198.91 A13,13 0 0 0 396.10,201.52 Z" fill="#727444"/>
<path d="M379.97,147.78 A68,68 0 0 1 405.00,143.00 L405.00,198.00 A13,13 0 0 0 400.21,198.91 Z" fill="#d79d4e"/>
<circle cx="405" cy="211" r="13" fill="#fff"/>
<text x="433" y="214" transform="rotate(5 433 214)" font-size="10" fill="#333" text-anchor="middle" dominant-baseline="central" font-family="Liberation Sans, sans-serif">53%</text>
<text x="383" y="229" transform="rotate(-45 383 229)" font-size="10" fill="#333" text-anchor="middle" dominant-baseline="central" font-family="Liberation Sans, sans-serif">22%</text>
<text x="378" y="200" transform="rotate(15 378 200)" font-size="10" fill="#333" text-anchor="middle" dominant-baseline="central" font-family="Liberation Sans, sans-serif">13%</text>
<text x="390" y="189" transform="rotate(55 390 189)" font-size="10" fill="#333" text-anchor="middle" dominant-baseline="central" font-family="Liberation Sans, sans-serif">6%</text>
<text x="399.5" y="185" transform="rotate(95 399.5 185)" font-size="10" fill="#333" text-anchor="middle" dominant-baseline="central" font-family="Liberation Sans, sans-serif">6%</text>
</svg><svg style="position:absolute;left:0;top:0" width="899" height="781"><path d="M176.02,493.48 A82.00,82.00 0 1 1 291.98,493.48 L273.96,475.46 A58.00,58.00 0 1 0 182.74,486.76 Z" fill="#b9c31c"/><path d="M175.8,493.6 L238.2,428 L241.8,431.2 Z" fill="#777"/><circle cx="240" cy="429.6" r="2.4" fill="#777"/></svg><div class="t" style="left:37px;top:335.90px;font-size:13px;line-height:13px;color:#4a4a4a;font-weight:normal;-webkit-text-stroke:0.25px #4a4a4a;">Total</div>
<div class="t" style="left:37.5px;top:522.47px;font-size:13.5px;line-height:13.5px;color:#4a4a4a;font-weight:normal;-webkit-text-stroke:0.25px #4a4a4a;">11 kbit/s</div>
<div class="t" style="left:162.5px;top:513.74px;font-size:12px;line-height:12px;color:#555;font-weight:normal;">0 kbit/s</div>
<div class="t" style="left:253.5px;top:513.74px;font-size:12px;line-height:12px;color:#555;font-weight:normal;">28,092 kbit/s</div>
<div style="position:absolute;left:32px;top:540px;width:300px;height:1px;background:#d6d6d6"></div><svg style="position:absolute;left:315px;top:527px" width="18" height="9"><circle cx="3.6" cy="4.3" r="2.4" fill="none" stroke="#cfcfcf" stroke-width="2"/><path d="M11 1 H16 M12.3 1 V4 M14.7 1 V4 M11 4.5 H16 M13.5 4.5 V8.8" fill="none" stroke="#cfcfcf" stroke-width="1.3"/><rect x="12.3" y="1" width="2.4" height="3.5" fill="#cfcfcf"/></svg><div class="t" style="left:344.5px;top:336.97px;font-size:10.2px;line-height:10.2px;color:#444;font-weight:normal;">FTP/P2P</div>
<div class="t" style="left:344.5px;top:379.03px;font-size:10.6px;line-height:10.6px;color:#444;font-weight:normal;">0 kbit/s</div>
<div style="position:absolute;left:339.0px;top:394px;width:148px;height:1px;background:#d6d6d6"></div><svg style="position:absolute;left:468px;top:384px" width="18" height="9"><circle cx="3.6" cy="4.3" r="2.4" fill="none" stroke="#cfcfcf" stroke-width="2"/><path d="M11 1 H16 M12.3 1 V4 M14.7 1 V4 M11 4.5 H16 M13.5 4.5 V8.8" fill="none" stroke="#cfcfcf" stroke-width="1.3"/><rect x="12.3" y="1" width="2.4" height="3.5" fill="#cfcfcf"/></svg><div class="t" style="left:498.1px;top:336.97px;font-size:10.2px;line-height:10.2px;color:#444;font-weight:normal;">Infrastructure</div>
<div class="t" style="left:498.1px;top:379.03px;font-size:10.6px;line-height:10.6px;color:#444;font-weight:normal;">0.95 kbit/s</div>
<div style="position:absolute;left:492.6px;top:394px;width:148px;height:1px;background:#d6d6d6"></div><svg style="position:absolute;left:621.6px;top:384px" width="18" height="9"><circle cx="3.6" cy="4.3" r="2.4" fill="none" stroke="#cfcfcf" stroke-width="2"/><path d="M11 1 H16 M12.3 1 V4 M14.7 1 V4 M11 4.5 H16 M13.5 4.5 V8.8" fill="none" stroke="#cfcfcf" stroke-width="1.3"/><rect x="12.3" y="1" width="2.4" height="3.5" fill="#cfcfcf"/></svg><div class="t" style="left:652.5px;top:336.97px;font-size:10.2px;line-height:10.2px;color:#444;font-weight:normal;">Mail</div>
<div class="t" style="left:652.5px;top:379.03px;font-size:10.6px;line-height:10.6px;color:#444;font-weight:normal;">0 kbit/s</div>
<div style="position:absolute;left:647.0px;top:394px;width:148px;height:1px;background:#d6d6d6"></div><svg style="position:absolute;left:776px;top:384px" width="18" height="9"><circle cx="3.6" cy="4.3" r="2.4" fill="none" stroke="#cfcfcf" stroke-width="2"/><path d="M11 1 H16 M12.3 1 V4 M14.7 1 V4 M11 4.5 H16 M13.5 4.5 V8.8" fill="none" stroke="#cfcfcf" stroke-width="1.3"/><rect x="12.3" y="1" width="2.4" height="3.5" fill="#cfcfcf"/></svg><div class="t" style="left:344.5px;top:409.97px;font-size:10.2px;line-height:10.2px;color:#444;font-weight:normal;">NetBIOS</div>
<div class="t" style="left:344.5px;top:452.03px;font-size:10.6px;line-height:10.6px;color:#444;font-weight:normal;">5.44 kbit/s</div>
<div style="position:absolute;left:339.0px;top:467px;width:148px;height:1px;background:#d6d6d6"></div><svg style="position:absolute;left:468px;top:457px" width="18" height="9"><circle cx="3.6" cy="4.3" r="2.4" fill="none" stroke="#cfcfcf" stroke-width="2"/><path d="M11 1 H16 M12.3 1 V4 M14.7 1 V4 M11 4.5 H16 M13.5 4.5 V8.8" fill="none" stroke="#cfcfcf" stroke-width="1.3"/><rect x="12.3" y="1" width="2.4" height="3.5" fill="#cfcfcf"/></svg><div class="t" style="left:498.1px;top:409.97px;font-size:10.2px;line-height:10.2px;color:#444;font-weight:normal;">Other</div>
<div class="t" style="left:498.1px;top:452.03px;font-size:10.6px;line-height:10.6px;color:#444;font-weight:normal;">0.02 kbit/s</div>
<div style="position:absolute;left:492.6px;top:467px;width:148px;height:1px;background:#d6d6d6"></div><svg style="position:absolute;left:621.6px;top:457px" width="18" height="9"><circle cx="3.6" cy="4.3" r="2.4" fill="none" stroke="#cfcfcf" stroke-width="2"/><path d="M11 1 H16 M12.3 1 V4 M14.7 1 V4 M11 4.5 H16 M13.5 4.5 V8.8" fill="none" stroke="#cfcfcf" stroke-width="1.3"/><rect x="12.3" y="1" width="2.4" height="3.5" fill="#cfcfcf"/></svg><div class="t" style="left:652.5px;top:409.97px;font-size:10.2px;line-height:10.2px;color:#444;font-weight:normal;">Remote Control</div>
<div class="t" style="left:652.5px;top:452.03px;font-size:10.6px;line-height:10.6px;color:#444;font-weight:normal;">1 kbit/s</div>
<div style="position:absolute;left:647.0px;top:467px;width:148px;height:1px;background:#d6d6d6"></div><svg style="position:absolute;left:776px;top:457px" width="18" height="9"><circle cx="3.6" cy="4.3" r="2.4" fill="none" stroke="#cfcfcf" stroke-width="2"/><path d="M11 1 H16 M12.3 1 V4 M14.7 1 V4 M11 4.5 H16 M13.5 4.5 V8.8" fill="none" stroke="#cfcfcf" stroke-width="1.3"/><rect x="12.3" y="1" width="2.4" height="3.5" fill="#cfcfcf"/></svg><div class="t" style="left:344.5px;top:482.97px;font-size:10.2px;line-height:10.2px;color:#444;font-weight:normal;">Various</div>
<div class="t" style="left:344.5px;top:525.03px;font-size:10.6px;line-height:10.6px;color:#444;font-weight:normal;">2.87 kbit/s</div>
<div style="position:absolute;left:339.0px;top:540px;width:148px;height:1px;background:#d6d6d6"></div><svg style="position:absolute;left:468px;top:530px" width="18" height="9"><circle cx="3.6" cy="4.3" r="2.4" fill="none" stroke="#cfcfcf" stroke-width="2"/><path d="M11 1 H16 M12.3 1 V4 M14.7 1 V4 M11 4.5 H16 M13.5 4.5 V8.8" fill="none" stroke="#cfcfcf" stroke-width="1.3"/><rect x="12.3" y="1" width="2.4" height="3.5" fill="#cfcfcf"/></svg><div class="t" style="left:498.1px;top:482.97px;font-size:10.2px;line-height:10.2px;color:#444;font-weight:normal;">WWW</div>
<div class="t" style="left:498.1px;top:525.03px;font-size:10.6px;line-height:10.6px;color:#444;font-weight:normal;">0.24 kbit/s</div>
<div style="position:absolute;left:492.6px;top:540px;width:148px;height:1px;background:#d6d6d6"></div><svg style="position:absolute;left:621.6px;top:530px" width="18" height="9"><circle cx="3.6" cy="4.3" r="2.4" fill="none" stroke="#cfcfcf" stroke-width="2"/><path d="M11 1 H16 M12.3 1 V4 M14.7 1 V4 M11 4.5 H16 M13.5 4.5 V8.8" fill="none" stroke="#cfcfcf" stroke-width="1.3"/><rect x="12.3" y="1" width="2.4" height="3.5" fill="#cfcfcf"/></svg><svg style="position:absolute;left:0;top:0" width="899" height="781"><path d="M438.95,382.75 A21.00,21.00 0 1 1 468.65,382.75 L463.21,377.31 A14.15,14.15 0 1 0 441.60,380.10 Z" fill="#b9c31c"/><polygon points="440.00,381.82 456.65,367.19 455.35,365.81 439.60,381.38" fill="#666"/><circle cx="456.00" cy="366.50" r="0.95" fill="#666"/><path d="M592.55,382.75 A21.00,21.00 0 1 1 622.25,382.75 L616.81,377.31 A14.15,14.15 0 1 0 595.20,380.10 Z" fill="#b9c31c"/><polygon points="593.60,381.82 610.25,367.19 608.95,365.81 593.20,381.38" fill="#666"/><circle cx="609.60" cy="366.50" r="0.95" fill="#666"/><path d="M746.95,382.75 A21.00,21.00 0 1 1 776.65,382.75 L771.21,377.31 A14.15,14.15 0 1 0 749.60,380.10 Z" fill="#b9c31c"/><polygon points="748.00,381.82 764.65,367.19 763.35,365.81 747.60,381.38" fill="#666"/><circle cx="764.00" cy="366.50" r="0.95" fill="#666"/><path d="M438.95,455.75 A21.00,21.00 0 1 1 468.65,455.75 L463.21,450.31 A14.15,14.15 0 1 0 441.60,453.10 Z" fill="#b9c31c"/><polygon points="440.00,454.82 456.65,440.19 455.35,438.81 439.60,454.38" fill="#666"/><circle cx="456.00" cy="439.50" r="0.95" fill="#666"/><path d="M592.55,455.75 A21.00,21.00 0 1 1 622.25,455.75 L616.81,450.31 A14.15,14.15 0 1 0 595.20,453.10 Z" fill="#b9c31c"/><polygon points="593.60,454.82 610.25,440.19 608.95,438.81 593.20,454.38" fill="#666"/><circle cx="609.60" cy="439.50" r="0.95" fill="#666"/><path d="M746.95,455.75 A21.00,21.00 0 1 1 776.65,455.75 L771.21,450.31 A14.15,14.15 0 1 0 749.60,453.10 Z" fill="#b9c31c"/><polygon points="742.91,448.48 764.44,440.89 763.76,439.11 742.69,447.92" fill="#666"/><circle cx="764.10" cy="440.00" r="0.95" fill="#666"/><path d="M438.95,528.75 A21.00,21.00 0 1 1 468.65,528.75 L463.21,523.31 A14.15,14.15 0 1 0 441.60,526.10 Z" fill="#b9c31c"/><polygon points="440.00,527.82 456.65,513.19 455.35,511.81 439.60,527.38" fill="#666"/><circle cx="456.00" cy="512.50" r="0.95" fill="#666"/><path d="M592.55,528.75 A21.00,21.00 0 1 1 622.25,528.75 L616.81,523.31 A14.15,14.15 0 1 0 595.20,526.10 Z" fill="#b9c31c"/><polygon points="593.60,527.82 610.25,513.19 608.95,511.81 593.20,527.38" fill="#666"/><circle cx="609.60" cy="512.50" r="0.95" fill="#666"/></svg><div class="t" style="left:57.5px;top:609.06px;font-size:12.8px;line-height:12.8px;color:#222b36;font-weight:normal;-webkit-text-stroke:0.45px #222b36;">Channel</div>
<svg style="position:absolute;left:110px;top:613px" width="9" height="7"><path d="M0.5 1 H8 L4.25 5.5 Z" fill="#222b36"/></svg><div class="t" style="left:237.4px;top:609.06px;font-size:12.8px;line-height:12.8px;color:#222b36;font-weight:normal;-webkit-text-stroke:0.45px #222b36;">ID</div>
<svg style="position:absolute;left:255px;top:608.5px" width="8" height="11"><path d="M0.5 4 L3.75 0.5 L7 4 Z M0.5 6 L3.75 9.5 L7 6 Z" fill="#c8c8c8"/></svg><div class="t" style="left:318.5px;transform:translateX(-50%);top:609.06px;font-size:12.8px;line-height:12.8px;color:#222b36;font-weight:normal;-webkit-text-stroke:0.45px #222b36;">Last Value</div>
<div class="t" style="left:320px;transform:translateX(-50%);top:624.66px;font-size:12.8px;line-height:12.8px;color:#222b36;font-weight:normal;-webkit-text-stroke:0.45px #222b36;">(volume)</div>
<svg style="position:absolute;left:339.5px;top:638px" width="8" height="11"><path d="M0.5 4 L3.75 0.5 L7 4 Z M0.5 6 L3.75 9.5 L7 6 Z" fill="#c8c8c8"/></svg><div class="t" style="left:373px;top:609.06px;font-size:12.8px;line-height:12.8px;color:#222b36;font-weight:normal;-webkit-text-stroke:0.45px #222b36;">Last Value</div>
<div class="t" style="left:373px;top:624.66px;font-size:12.8px;line-height:12.8px;color:#222b36;font-weight:normal;-webkit-text-stroke:0.45px #222b36;">(speed)</div>
<svg style="position:absolute;left:423px;top:623px" width="8" height="11"><path d="M0.5 4 L3.75 0.5 L7 4 Z M0.5 6 L3.75 9.5 L7 6 Z" fill="#c8c8c8"/></svg><div class="t" style="left:521px;top:609.06px;font-size:12.8px;line-height:12.8px;color:#222b36;font-weight:normal;-webkit-text-stroke:0.45px #222b36;">Minimum</div>
<svg style="position:absolute;left:581px;top:608.5px" width="8" height="11"><path d="M0.5 4 L3.75 0.5 L7 4 Z M0.5 6 L3.75 9.5 L7 6 Z" fill="#c8c8c8"/></svg><div class="t" style="left:678px;top:609.06px;font-size:12.8px;line-height:12.8px;color:#222b36;font-weight:normal;-webkit-text-stroke:0.45px #222b36;">Maximum</div>
<svg style="position:absolute;left:741px;top:608.5px" width="8" height="11"><path d="M0.5 4 L3.75 0.5 L7 4 Z M0.5 6 L3.75 9.5 L7 6 Z" fill="#c8c8c8"/></svg><div style="position:absolute;left:47px;top:656px;width:843px;height:1px;background:#e4e4e4"></div><div style="position:absolute;left:47px;top:687px;width:843px;height:1px;background:#e4e4e4"></div><div style="position:absolute;left:47px;top:718px;width:843px;height:1px;background:#e4e4e4"></div><div style="position:absolute;left:47px;top:749px;width:843px;height:1px;background:#e4e4e4"></div><div style="position:absolute;left:47px;top:780px;width:843px;height:1px;background:#e4e4e4"></div><div class="t" style="left:57.2px;top:670.10px;font-size:13px;line-height:13px;color:#555;font-weight:normal;">Downtime</div>
<div class="t" style="right:634.3px;top:670.10px;font-size:13px;line-height:13px;color:#555;font-weight:normal;">-4</div>
<svg style="position:absolute;left:818px;top:670.1px" width="14" height="14"><circle cx="8.9" cy="4.5" r="2.75" fill="none" stroke="#444" stroke-width="2.0"/><rect x="8.40" y="-0.25" width="1.0" height="1.6" fill="#444" transform="rotate(0.0 8.9 4.5)"/><rect x="8.40" y="-0.25" width="1.0" height="1.6" fill="#444" transform="rotate(45.0 8.9 4.5)"/><rect x="8.40" y="-0.25" width="1.0" height="1.6" fill="#444" transform="rotate(90.0 8.9 4.5)"/><rect x="8.40" y="-0.25" width="1.0" height="1.6" fill="#444" transform="rotate(135.0 8.9 4.5)"/><rect x="8.40" y="-0.25" width="1.0" height="1.6" fill="#444" transform="rotate(180.0 8.9 4.5)"/><rect x="8.40" y="-0.25" width="1.0" height="1.6" fill="#444" transform="rotate(225.0 8.9 4.5)"/><rect x="8.40" y="-0.25" width="1.0" height="1.6" fill="#444" transform="rotate(270.0 8.9 4.5)"/><rect x="8.40" y="-0.25" width="1.0" height="1.6" fill="#444" transform="rotate(315.0 8.9 4.5)"/><circle cx="3.2" cy="10.3" r="1.45" fill="none" stroke="#444" stroke-width="1.4"/></svg><div class="t" style="left:57.2px;top:701.30px;font-size:13px;line-height:13px;color:#555;font-weight:normal;">FTP/P2P</div>
<div class="t" style="right:634.3px;top:701.30px;font-size:13px;line-height:13px;color:#555;font-weight:normal;">3002</div>
<div class="t" style="right:550.3px;top:701.30px;font-size:13px;line-height:13px;color:#555;font-weight:normal;">0 KByte</div>
<div class="t" style="right:466.6px;top:701.30px;font-size:13px;line-height:13px;color:#555;font-weight:normal;">0 kbit/s</div>
<svg style="position:absolute;left:818px;top:701.3000000000001px" width="14" height="14"><circle cx="8.9" cy="4.5" r="2.75" fill="none" stroke="#444" stroke-width="2.0"/><rect x="8.40" y="-0.25" width="1.0" height="1.6" fill="#444" transform="rotate(0.0 8.9 4.5)"/><rect x="8.40" y="-0.25" width="1.0" height="1.6" fill="#444" transform="rotate(45.0 8.9 4.5)"/><rect x="8.40" y="-0.25" width="1.0" height="1.6" fill="#444" transform="rotate(90.0 8.9 4.5)"/><rect x="8.40" y="-0.25" width="1.0" height="1.6" fill="#444" transform="rotate(135.0 8.9 4.5)"/><rect x="8.40" y="-0.25" width="1.0" height="1.6" fill="#444" transform="rotate(180.0 8.9 4.5)"/><rect x="8.40" y="-0.25" width="1.0" height="1.6" fill="#444" transform="rotate(225.0 8.9 4.5)"/><rect x="8.40" y="-0.25" width="1.0" height="1.6" fill="#444" transform="rotate(270.0 8.9 4.5)"/><rect x="8.40" y="-0.25" width="1.0" height="1.6" fill="#444" transform="rotate(315.0 8.9 4.5)"/><circle cx="3.2" cy="10.3" r="1.45" fill="none" stroke="#444" stroke-width="1.4"/></svg><div class="t" style="left:57.2px;top:732.50px;font-size:13px;line-height:13px;color:#555;font-weight:normal;">Infrastructure</div>
<div class="t" style="right:634.3px;top:732.50px;font-size:13px;line-height:13px;color:#555;font-weight:normal;">3007</div>
<div class="t" style="right:550.3px;top:732.50px;font-size:13px;line-height:13px;color:#555;font-weight:normal;">6.93 KByte</div>
<div class="t" style="right:466.6px;top:732.50px;font-size:13px;line-height:13px;color:#555;font-weight:normal;">0.95 kbit/s</div>
<div class="t" style="right:308.1px;top:732.50px;font-size:13px;line-height:13px;color:#555;font-weight:normal;">0 kbit/s</div>
<div class="t" style="right:149.39999999999998px;top:732.50px;font-size:13px;line-height:13px;color:#555;font-weight:normal;">6,619 kbit/s</div>
<svg style="position:absolute;left:818px;top:732.5px" width="14" height="14"><circle cx="8.9" cy="4.5" r="2.75" fill="none" stroke="#444" stroke-width="2.0"/><rect x="8.40" y="-0.25" width="1.0" height="1.6" fill="#444" transform="rotate(0.0 8.9 4.5)"/><rect x="8.40" y="-0.25" width="1.0" height="1.6" fill="#444" transform="rotate(45.0 8.9 4.5)"/><rect x="8.40" y="-0.25" width="1.0" height="1.6" fill="#444" transform="rotate(90.0 8.9 4.5)"/><rect x="8.40" y="-0.25" width="1.0" height="1.6" fill="#444" transform="rotate(135.0 8.9 4.5)"/><rect x="8.40" y="-0.25" width="1.0" height="1.6" fill="#444" transform="rotate(180.0 8.9 4.5)"/><rect x="8.40" y="-0.25" width="1.0" height="1.6" fill="#444" transform="rotate(225.0 8.9 4.5)"/><rect x="8.40" y="-0.25" width="1.0" height="1.6" fill="#444" transform="rotate(270.0 8.9 4.5)"/><rect x="8.40" y="-0.25" width="1.0" height="1.6" fill="#444" transform="rotate(315.0 8.9 4.5)"/><circle cx="3.2" cy="10.3" r="1.45" fill="none" stroke="#444" stroke-width="1.4"/></svg><div class="t" style="left:57.2px;top:763.70px;font-size:13px;line-height:13px;color:#555;font-weight:normal;">Mail</div>
<div class="t" style="right:634.3px;top:763.70px;font-size:13px;line-height:13px;color:#555;font-weight:normal;">3003</div>
<div class="t" style="right:550.3px;top:763.70px;font-size:13px;line-height:13px;color:#555;font-weight:normal;">0 KByte</div>
<div class="t" style="right:466.6px;top:763.70px;font-size:13px;line-height:13px;color:#555;font-weight:normal;">0 kbit/s</div>
<svg style="position:absolute;left:818px;top:763.7px" width="14" height="14"><circle cx="8.9" cy="4.5" r="2.75" fill="none" stroke="#444" stroke-width="2.0"/><rect x="8.40" y="-0.25" width="1.0" height="1.6" fill="#444" transform="rotate(0.0 8.9 4.5)"/><rect x="8.40" y="-0.25" width="1.0" height="1.6" fill="#444" transform="rotate(45.0 8.9 4.5)"/><rect x="8.40" y="-0.25" width="1.0" height="1.6" fill="#444" transform="rotate(90.0 8.9 4.5)"/><rect x="8.40" y="-0.25" width="1.0" height="1.6" fill="#444" transform="rotate(135.0 8.9 4.5)"/><rect x="8.40" y="-0.25" width="1.0" height="1.6" fill="#444" transform="rotate(180.0 8.9 4.5)"/><rect x="8.40" y="-0.25" width="1.0" height="1.6" fill="#444" transform="rotate(225.0 8.9 4.5)"/><rect x="8.40" y="-0.25" width="1.0" height="1.6" fill="#444" transform="rotate(270.0 8.9 4.5)"/><rect x="8.40" y="-0.25" width="1.0" height="1.6" fill="#444" transform="rotate(315.0 8.9 4.5)"/><circle cx="3.2" cy="10.3" r="1.45" fill="none" stroke="#444" stroke-width="1.4"/></svg>
</body></html>
